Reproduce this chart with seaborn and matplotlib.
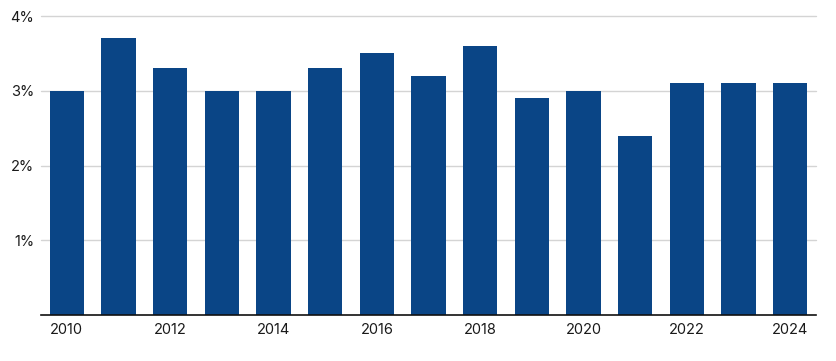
import matplotlib
matplotlib.use("Agg")
import matplotlib.pyplot as plt
import seaborn as sns
import pandas as pd

years = [2010, 2011, 2012, 2013, 2014, 2015, 2016, 2017, 2018, 2019, 2020, 2021, 2022, 2023, 2024]
values = [3.0, 3.7, 3.3, 3.0, 3.0, 3.3, 3.5, 3.2, 3.6, 2.9, 3.0, 2.4, 3.1, 3.1, 3.1]
y_ticks = [1, 2, 3, 4]
y_tick_labels = ["1%", "2%", "3%", "4%"]

sns.set_theme(style="white")
plt.rcParams["font.family"] = ["Inter", "DejaVu Sans"]

df = pd.DataFrame({"year": [str(y) for y in years], "value": values})

fig = plt.figure(figsize=(8.37, 3.61), dpi=100)
ax = fig.add_axes([41 / 837, 1 - 315 / 361, (816 - 41) / 837, (315 - 16) / 361])

sns.barplot(data=df, x="year", y="value", color="#0a4586", width=0.67,
            saturation=1, linewidth=0, edgecolor="none", ax=ax, zorder=3)

ax.set_ylim(0, 4)
ax.set_xlim(-0.5, len(years) - 0.5)
ax.set_yticks(y_ticks)
ax.set_yticklabels(y_tick_labels)
ax.set_axisbelow(True)
ax.yaxis.grid(True, color="#d4d4d4", linewidth=1)
for gl in ax.get_ygridlines():
    gl.set_clip_on(False)
    gl.set_zorder(0.5)

xt = list(range(0, len(years), 2))
ax.set_xticks(xt)
ax.set_xticklabels([str(years[i]) for i in xt])

for s in ["top", "right", "left"]:
    ax.spines[s].set_visible(False)
ax.spines["bottom"].set_color("#111111")
ax.spines["bottom"].set_linewidth(1.2)
ax.spines["bottom"].set_zorder(4)

ax.tick_params(axis="both", length=0, labelsize=10.5, colors="#1a1a1a")
ax.tick_params(axis="y", pad=5)
ax.tick_params(axis="x", pad=6)
ax.set_xlabel("")
ax.set_ylabel("")

fig.savefig("out.png", dpi=100)
